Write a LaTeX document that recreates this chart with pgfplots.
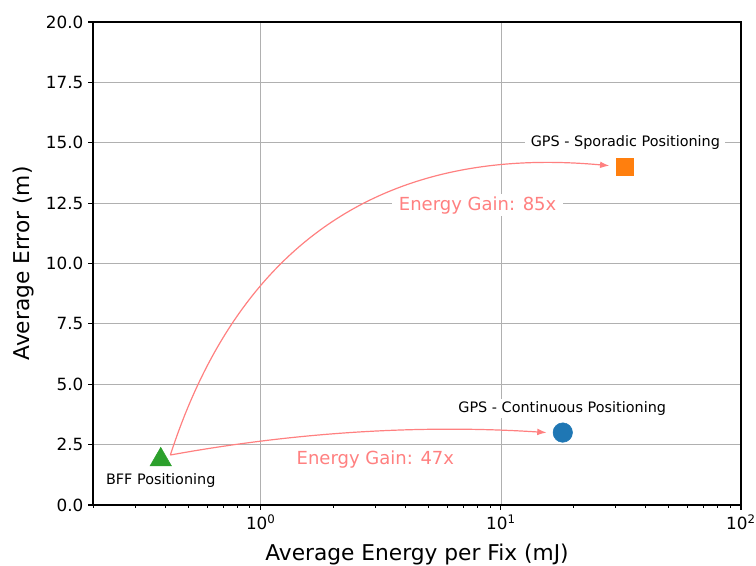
\documentclass[border=0pt]{standalone}
\usepackage{fontspec}
\setmainfont{DejaVu Sans}
\usepackage{pgfplots}
\pgfplotsset{compat=1.18}
\usetikzlibrary{arrows.meta}
\definecolor{tabblue}{HTML}{1F77B4}
\definecolor{taborange}{HTML}{FF7F0E}
\definecolor{tabgreen}{HTML}{2CA02C}
\definecolor{arrowred}{HTML}{FF8080}
\definecolor{gridgrey}{HTML}{B0B0B0}
\begin{document}
\begin{tikzpicture}
\begin{axis}[
  xmode=log, scale only axis, width=486pt, height=362.25pt,
  xmin=0.2, xmax=100, ymin=0, ymax=20,
  xtick={1,10,100},
  xticklabels={10\textsuperscript{0},10\textsuperscript{1},10\textsuperscript{2}},
  minor xtick={0.2,0.3,0.4,0.5,0.6,0.7,0.8,0.9,2,3,4,5,6,7,8,9,20,30,40,50,60,70,80,90},
  ytick={0,2.5,5,7.5,10,12.5,15,17.5,20},
  yticklabel style={/pgf/number format/.cd, fixed, fixed zerofill, precision=1, assume math mode=true},
  ticklabel style={font=\fontsize{12.6}{15}\selectfont},
  label style={font=\fontsize{16.3}{19}\selectfont},
  xlabel={Average Energy per Fix (mJ)},
  ylabel={Average Error (m)},
  xlabel style={at={(axis description cs:0.5,-0.1015)}, anchor=center},
  ylabel style={at={(axis description cs:-0.1074,0.5)}, anchor=center},
  grid=major, major grid style={gridgrey, line width=0.6pt},
  tick align=outside, xtick pos=left, ytick pos=left,
  major tick length=3.7pt, minor tick length=2.1pt,
  major tick style={black, line width=0.8pt},
  minor tick style={black, line width=0.6pt},
  axis line style={black, line width=1pt},
  clip=false,
]
\coordinate (SW) at (rel axis cs:0,0);
\coordinate (NE) at (rel axis cs:1,1);
\addplot[only marks, mark=triangle*, mark size=9.2pt, color=tabgreen, mark options={yshift=-2.2pt}] coordinates {(0.383,2.0)};
\addplot[only marks, mark=*, mark size=7.3pt, color=tabblue] coordinates {(18.1,3.0)};
\addplot[only marks, mark=square*, mark size=6.5pt, color=taborange] coordinates {(32.9,14.0)};
\draw[arrowred, line width=0.9pt, -{Latex[length=7pt,width=5pt]}] (axis cs:0.42,2.07) .. controls (axis cs:1.387,3.01) and (axis cs:4.62,3.34) .. (axis cs:15.5,3.0);
\draw[arrowred, line width=0.9pt, -{Latex[length=7pt,width=5pt]}] (axis cs:0.42,2.07) .. controls (axis cs:0.816,10.91) and (axis cs:3.318,14.90) .. (axis cs:28.3,14.05);
\node[fill=white, inner xsep=4pt, inner ysep=2pt, font=\fontsize{10.8}{13}\selectfont] at (axis cs:33,15) {GPS - Sporadic Positioning};
\node[fill=white, inner xsep=4pt, inner ysep=2pt, font=\fontsize{10.8}{13}\selectfont] at (axis cs:18,4.0) {GPS - Continuous Positioning};
\node[fill=white, inner xsep=4pt, inner ysep=2pt, font=\fontsize{10.8}{13}\selectfont] at (axis cs:0.383,1.0) {BFF Positioning};
\node[fill=white, inner xsep=5pt, inner ysep=2pt, text=arrowred, font=\fontsize{13.5}{16}\selectfont] at (axis cs:8.0,12.42) {Energy Gain: 85x};
\node[fill=white, inner xsep=5pt, inner ysep=2pt, text=arrowred, font=\fontsize{13.5}{16}\selectfont] at (axis cs:3.0,1.9) {Energy Gain: 47x};
\end{axis}
\pgfresetboundingbox
\path[use as bounding box] ([shift={(-69.75pt,-45pt)}]SW) rectangle ([shift={(11.25pt,16.5pt)}]NE);
\end{tikzpicture}
\end{document}
